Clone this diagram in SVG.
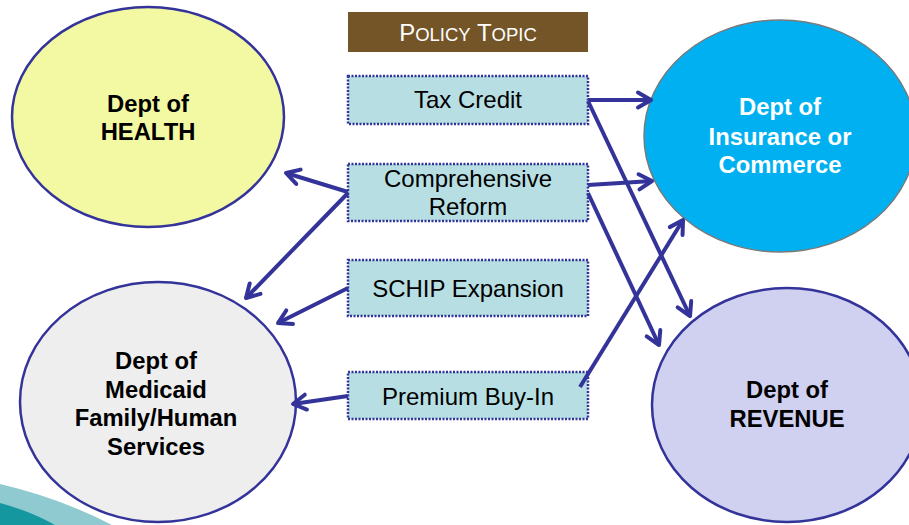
<svg xmlns="http://www.w3.org/2000/svg" width="909" height="525" viewBox="0 0 909 525">
<defs>
<style>
.dept{stroke:#333399;stroke-width:2.5}
.lbl{font-family:"Liberation Sans",Arial,sans-serif;font-weight:bold;font-size:23.8px;text-anchor:middle;fill:#000}
.wl{fill:#fff}
.topic{fill:#b7dfe3;stroke:#333399;stroke-width:2.5;stroke-dasharray:2 1.5}
.tt{font-family:"Liberation Sans",Arial,sans-serif;font-size:24px;text-anchor:middle;fill:#000}
.conn{stroke:#333399;stroke-width:4;fill:none;marker-end:url(#ah)}
</style>
<marker id="ah" markerUnits="userSpaceOnUse" markerWidth="30" markerHeight="30" viewBox="-20 -15 30 30" refX="0" refY="0" orient="auto">
<path d="M-13,-7.5 L0,0 L-13,7.5" fill="none" stroke="#333399" stroke-width="4" stroke-linecap="round" stroke-linejoin="round"/>
</marker>
</defs>
<rect width="909" height="525" fill="#fff"/>
<g id="swoosh">
<path d="M0,484 Q60,498 112,525 L0,525 Z" fill="#8ecad0"/>
<path d="M0,503 Q30,511 55,525 L0,525 Z" fill="#15979f"/>
</g>
<g id="health">
<ellipse cx="148" cy="117" rx="136" ry="110" fill="#f2f9a2" class="dept"/>
<text class="lbl" x="148" y="112">Dept of</text>
<text class="lbl" x="148" y="140">HEALTH</text>
</g>
<g id="medicaid">
<ellipse cx="158" cy="402" rx="138" ry="120" fill="#eeeeee" class="dept"/>
<text class="lbl" x="156" y="369">Dept of</text>
<text class="lbl" x="156" y="398">Medicaid</text>
<text class="lbl" x="156" y="426">Family/Human</text>
<text class="lbl" x="156" y="455">Services</text>
</g>
<g id="insurance">
<ellipse cx="780" cy="136" rx="136" ry="116" fill="#00b0f0" stroke="#7a7a7a" stroke-width="1.5"/>
<text class="lbl wl" x="780" y="115" style="fill:#fff">Dept of</text>
<text class="lbl wl" x="780" y="145" style="fill:#fff">Insurance or</text>
<text class="lbl wl" x="780" y="173" style="fill:#fff">Commerce</text>
</g>
<g id="revenue">
<ellipse cx="787" cy="405" rx="135" ry="117" fill="#d0d1f0" class="dept"/>
<text class="lbl" x="787" y="398">Dept of</text>
<text class="lbl" x="787" y="427">REVENUE</text>
</g>
<g id="policy-topic">
<rect x="348" y="12" width="240" height="40" fill="#745527"/>
<text x="468" y="41" font-family="'Liberation Sans',Arial,sans-serif" text-anchor="middle" fill="#fff" font-size="24">P<tspan font-size="18.5">OLICY</tspan> T<tspan font-size="18.5">OPIC</tspan></text>
</g>
<g id="tax-credit">
<rect class="topic" x="348" y="76" width="240" height="48"/>
<text class="tt" x="468" y="108">Tax Credit</text>
</g>
<g id="comprehensive-reform">
<rect class="topic" x="348" y="164" width="240" height="57"/>
<text class="tt" x="468" y="187">Comprehensive</text>
<text class="tt" x="468" y="215">Reform</text>
</g>
<g id="schip-expansion">
<rect class="topic" x="348" y="260" width="240" height="56"/>
<text class="tt" x="468" y="297">SCHIP Expansion</text>
</g>
<g id="premium-buy-in">
<rect class="topic" x="348" y="372" width="240" height="47"/>
<text class="tt" x="468" y="405">Premium Buy-In</text>
</g>
<g id="connectors">
<line class="conn" x1="588" y1="100" x2="651" y2="100"/>
<line class="conn" x1="588" y1="101" x2="690" y2="316"/>
<line class="conn" x1="588" y1="185" x2="652" y2="181"/>
<line class="conn" x1="588" y1="193" x2="659" y2="345"/>
<line class="conn" x1="580" y1="387" x2="683" y2="220"/>
<line class="conn" x1="348" y1="192" x2="286" y2="173"/>
<line class="conn" x1="348" y1="193" x2="246" y2="298"/>
<line class="conn" x1="348" y1="288" x2="278" y2="323"/>
<line class="conn" x1="348" y1="396" x2="293" y2="404"/>
</g>
</svg>
